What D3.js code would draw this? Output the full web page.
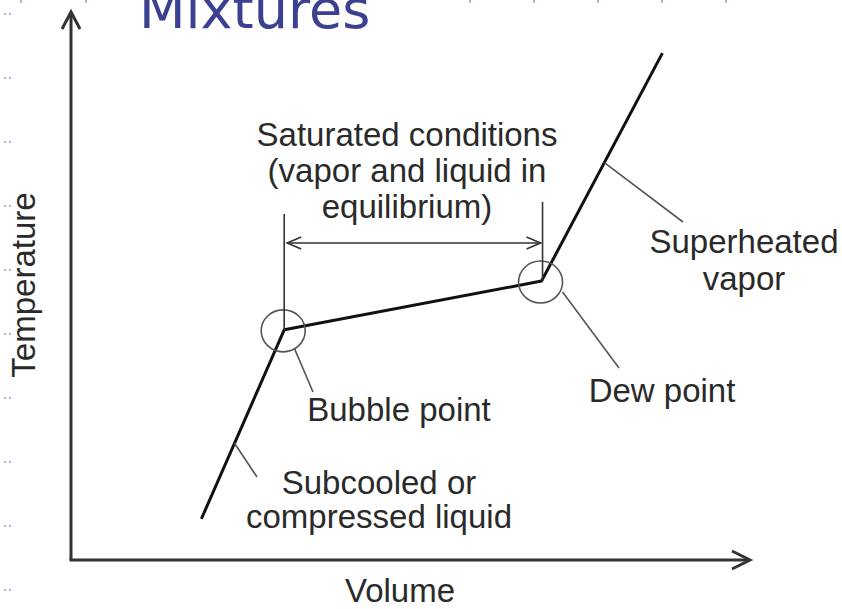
<!DOCTYPE html>
<html>
<head>
<meta charset="utf-8">
<script src="https://cdn.jsdelivr.net/npm/d3@7"></script>
<style>
  body { margin: 0; background: #fff; }
  text { font-family: "Liberation Sans", Arial, sans-serif; }
</style>
</head>
<body>
<div id="chart"></div>
<script>
// curve (arbitrary units, 0-100 on both axes)
var volume = [19.2, 31.4, 69.3, 87.1];
var temperature = [7.5, 42.0, 50.9, 92.5];
var pointNames = ["start", "Bubble point", "Dew point", "end"];

var axisLabels = ["Volume", "Temperature"];
var title = "Mixtures";

var satLabel = ["Saturated conditions", "(vapor and liquid in", "equilibrium)"];
var superLabel = ["Superheated", "vapor"];
var subLabel = ["Subcooled or", "compressed liquid"];

var W = 842, H = 609;

var svg = d3.select("#chart")
    .append("svg")
    .attr("width", W)
    .attr("height", H);

var x = d3.scaleLinear().domain([0, 100]).range([71, 750]);
var y = d3.scaleLinear().domain([0, 100]).range([560, 12]);

var pts = volume.map(function(v, i) { return [x(v), y(temperature[i])]; });

// slide decoration dots
for (var k = 0; k < 10; k++) {
    var dy = 13 + 64 * k;
    [4, 9].forEach(function(dx) {
        svg.append("rect").attr("x", dx).attr("y", dy).attr("width", 2).attr("height", 2).attr("fill", "#aab6ee");
    });
}
[20, 85, 469, 533, 597, 661, 725].forEach(function(dx) {
    svg.append("rect").attr("x", dx).attr("y", 0).attr("width", 2).attr("height", 3).attr("fill", "#aab6ee");
});

// title (cut off at top of slide)
svg.append("text")
    .attr("x", 139)
    .attr("y", 28)
    .style("font-family", "'DejaVu Sans', Verdana, sans-serif")
    .style("font-size", "54px")
    .attr("fill", "#3b4090")
    .text(title);

// axes
var axisCol = "#333";
svg.append("line")
    .attr("x1", x(0)).attr("y1", y(0))
    .attr("x2", x(0)).attr("y2", y(100))
    .attr("stroke", axisCol).attr("stroke-width", 3);
svg.append("line")
    .attr("x1", x(0) - 1.5).attr("y1", y(0))
    .attr("x2", x(100)).attr("y2", y(0))
    .attr("stroke", axisCol).attr("stroke-width", 3);

// axis arrow heads (open)
svg.append("path")
    .attr("d", "M" + (x(0) - 9) + "," + (y(100) + 17) + " L" + x(0) + "," + y(100) + " L" + (x(0) + 9) + "," + (y(100) + 17))
    .attr("fill", "none").attr("stroke", axisCol).attr("stroke-width", 3);
svg.append("path")
    .attr("d", "M" + (x(100) - 18) + "," + (y(0) - 9) + " L" + x(100) + "," + y(0) + " L" + (x(100) - 18) + "," + (y(0) + 9))
    .attr("fill", "none").attr("stroke", axisCol).attr("stroke-width", 3);

// axis labels
svg.append("text")
    .attr("x", 400).attr("y", 602)
    .attr("text-anchor", "middle")
    .style("font-size", "33px").attr("fill", "#2a2a2a")
    .text(axisLabels[0]);
svg.append("text")
    .attr("transform", "translate(35,285) rotate(-90)")
    .attr("text-anchor", "middle")
    .style("font-size", "33px").attr("fill", "#2a2a2a")
    .text(axisLabels[1]);

// the curve
var line = d3.line();
svg.append("path")
    .attr("d", line(pts))
    .attr("fill", "none")
    .attr("stroke", "#111")
    .attr("stroke-width", 3)
    .attr("stroke-linejoin", "round");

var bubble = pts[1], dew = pts[2];

// circles at bubble and dew point
[bubble, dew].forEach(function(p) {
    svg.append("ellipse")
        .attr("cx", p[0] - 1).attr("cy", p[1] + 1)
        .attr("rx", 22).attr("ry", 21)
        .attr("fill", "none")
        .attr("stroke", "#555")
        .attr("stroke-width", 1.6);
});

// saturated region dimension line
var dimCol = "#333";
svg.append("line")
    .attr("x1", bubble[0]).attr("y1", 214).attr("x2", bubble[0]).attr("y2", bubble[1])
    .attr("stroke", dimCol).attr("stroke-width", 1.6);
svg.append("line")
    .attr("x1", dew[0] + 1).attr("y1", 202).attr("x2", dew[0] + 1).attr("y2", dew[1])
    .attr("stroke", dimCol).attr("stroke-width", 1.6);
var dimY = 243;
svg.append("line")
    .attr("x1", bubble[0] + 3).attr("y1", dimY).attr("x2", dew[0] - 1).attr("y2", dimY)
    .attr("stroke", dimCol).attr("stroke-width", 1.6);
svg.append("path")
    .attr("d", "M" + (bubble[0] + 17) + "," + (dimY - 6) + " L" + (bubble[0] + 3) + "," + dimY + " L" + (bubble[0] + 17) + "," + (dimY + 6))
    .attr("fill", "none").attr("stroke", dimCol).attr("stroke-width", 1.6);
svg.append("path")
    .attr("d", "M" + (dew[0] - 15) + "," + (dimY - 6) + " L" + (dew[0] - 1) + "," + dimY + " L" + (dew[0] - 15) + "," + (dimY + 6))
    .attr("fill", "none").attr("stroke", dimCol).attr("stroke-width", 1.6);

// leader lines
function along(a, b, t) { return [a[0] + (b[0] - a[0]) * t, a[1] + (b[1] - a[1]) * t]; }
var leaders = [
    [along(pts[0], pts[1], 0.4), [257, 477]],
    [[bubble[0] + 10, bubble[1] + 18], [313, 392]],
    [[dew[0] + 21, dew[1] + 11], [619, 368]],
    [along(pts[2], pts[3], 0.52), [683, 222]]
];
leaders.forEach(function(l) {
    svg.append("line")
        .attr("x1", l[0][0]).attr("y1", l[0][1])
        .attr("x2", l[1][0]).attr("y2", l[1][1])
        .attr("stroke", "#555")
        .attr("stroke-width", 1.6);
});

// labels
function label(lines, cx, baseY, step) {
    var t = svg.append("text")
        .attr("text-anchor", "middle")
        .style("font-size", "33px")
        .attr("fill", "#2a2a2a");
    lines.forEach(function(s, i) {
        t.append("tspan").attr("x", cx).attr("y", baseY + i * step).text(s);
    });
}
label(satLabel, 407, 146, 36);
label(superLabel, 744, 253, 37);
label([pointNames[2]], 662, 402, 0);
label([pointNames[1]], 399, 421, 0);
label(subLabel, 379, 494, 34);
</script>
</body>
</html>
